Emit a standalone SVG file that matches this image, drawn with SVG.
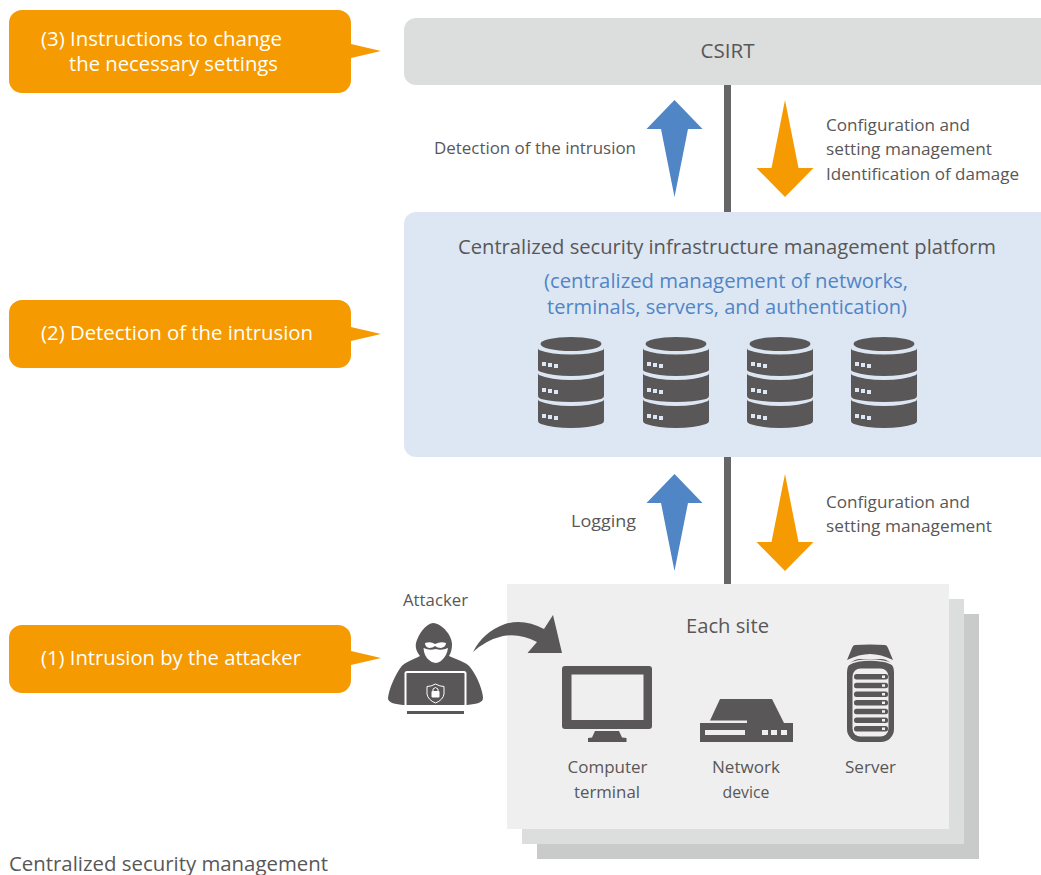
<svg xmlns="http://www.w3.org/2000/svg" xmlns:xlink="http://www.w3.org/1999/xlink" width="1041" height="875" viewBox="0 0 1041 875">
<style>
text{font-family:"Open Sans","Noto Sans","Liberation Sans",sans-serif;fill:#595757;font-size:17px}
.w{fill:#fff;font-size:19.5px}
.m{font-size:19.5px}
.s{font-size:16.5px}
.b{fill:#5085c6;font-size:19.5px}
.g{fill:#595757}
.or{fill:#f59a00}
.bl{fill:#5085c6}
.c{text-anchor:middle}
</style>
<defs>
<g id="db">
<ellipse class="g" cx="0" cy="344" rx="30.500" ry="7"/>
<path class="g" d="M-33 348Q-33 349-32 350Q-20 354.500 0 354.500Q20 354.500 32 350Q33 349 33 348V370Q33 371 30 372Q18 376 0 376Q-18 376-30 372Q-33 371-33 370Z"/>
<path class="g" d="M-33 373Q-33 374-32 375Q-20 380 0 380Q20 380 32 375Q33 374 33 373V396Q33 398 30 399Q18 402 0 402Q-18 402-30 399Q-33 398-33 396Z"/>
<path class="g" d="M-33 399Q-33 400-32 401Q-20 406 0 406Q20 406 32 401Q33 400 33 399V421Q33 423 30 424Q18 428 0 428Q-18 428-30 424Q-33 423-33 421Z"/>
<path fill="#dde7f3" d="M-29 362h4v4h-4zM-23 363h4v4h-4zM-17 364h4v4h-4zM-29 388h4v4h-4zM-23 389h4v4h-4zM-17 390h4v4h-4zM-29 414h4v4h-4zM-23 415h4v4h-4zM-17 416h4v4h-4z"/>
</g>
<path id="up" d="M0 0L28 29H13.500L0 97L-13.500 29H-28Z"/>
<path id="down" d="M0 0L13.500 68H28.500L0 97L-28.500 68H-13.500Z"/>
</defs>

<g id="csirt"><path fill="#dcdddd" d="M416 18H1041V85H416A12 12 0 0 1 404 73V30A12 12 0 0 1 416 18Z"/><text class="m c" x="727.500" y="58" textLength="54" lengthAdjust="spacingAndGlyphs">CSIRT</text></g>

<g id="platform">
<path fill="#dde7f3" d="M416 212H1041V457H416A12 12 0 0 1 404 445V224A12 12 0 0 1 416 212Z"/>
<text class="m c" x="727" y="254" textLength="538" lengthAdjust="spacingAndGlyphs">Centralized security infrastructure management platform</text>
<text class="b c" x="726" y="288" textLength="364" lengthAdjust="spacingAndGlyphs">(centralized management of networks,</text>
<text class="b c" x="727" y="314" textLength="360" lengthAdjust="spacingAndGlyphs">terminals, servers, and authentication)</text>
<use xlink:href="#db" href="#db" x="571"/><use xlink:href="#db" href="#db" x="676"/><use xlink:href="#db" href="#db" x="780"/><use xlink:href="#db" href="#db" x="884"/>
</g>

<g id="site">
<rect x="537" y="614" width="442" height="245" fill="#c9caca"/>
<rect x="522" y="599" width="442" height="245" fill="#dcdddd"/>
<rect x="507" y="584" width="442" height="245" fill="#efefef"/>
<text class="m c" x="727.500" y="633" textLength="83" lengthAdjust="spacingAndGlyphs">Each site</text>
</g>

<g id="connectors">
<rect x="724" y="85" width="7" height="127" fill="#666"/>
<rect x="724" y="457" width="7" height="127" fill="#666"/>
<use xlink:href="#up" href="#up" x="674.500" y="100" class="bl"/>
<use xlink:href="#down" href="#down" x="785" y="100" class="or"/>
<use xlink:href="#up" href="#up" x="674.500" y="474" class="bl"/>
<use xlink:href="#down" href="#down" x="785" y="474" class="or"/>
<path class="g" d="M473 652Q483 632 505 624Q524 618 544 629L553 615L562 653H527.500L537 642Q520 633 503 636Q486 640 473 652Z"/>
</g>

<g id="label-detection"><text x="434" y="154" textLength="202" lengthAdjust="spacingAndGlyphs">Detection of the intrusion</text></g>
<g id="label-config1"><text x="826" y="131" textLength="144" lengthAdjust="spacingAndGlyphs">Configuration and</text><text x="826" y="155" textLength="166" lengthAdjust="spacingAndGlyphs">setting management</text><text x="826" y="180" textLength="193" lengthAdjust="spacingAndGlyphs">Identification of damage</text></g>
<g id="label-logging"><text x="571" y="527" textLength="65" lengthAdjust="spacingAndGlyphs">Logging</text></g>
<g id="label-config2"><text x="826" y="508" textLength="144" lengthAdjust="spacingAndGlyphs">Configuration and</text><text x="826" y="532" textLength="166" lengthAdjust="spacingAndGlyphs">setting management</text></g>

<g id="callout-3"><path class="or" d="M22 10H338A13 13 0 0 1 351 23V44L381 51L351 58V80A13 13 0 0 1 338 93H22A13 13 0 0 1 9 80V23A13 13 0 0 1 22 10Z"/><text class="w" x="41" y="46" textLength="241" lengthAdjust="spacingAndGlyphs">(3) Instructions to change</text><text class="w" x="69" y="71" textLength="209" lengthAdjust="spacingAndGlyphs">the necessary settings</text></g>
<g id="callout-2"><path class="or" d="M22 300H338A13 13 0 0 1 351 313V327L381 334L351 341V355A13 13 0 0 1 338 368H22A13 13 0 0 1 9 355V313A13 13 0 0 1 22 300Z"/><text class="w" x="41" y="340" textLength="272" lengthAdjust="spacingAndGlyphs">(2) Detection of the intrusion</text></g>
<g id="callout-1"><path class="or" d="M22 625H338A13 13 0 0 1 351 638V651L381 658L351 665V680A13 13 0 0 1 338 693H22A13 13 0 0 1 9 680V638A13 13 0 0 1 22 625Z"/><text class="w" x="41" y="665" textLength="260" lengthAdjust="spacingAndGlyphs">(1) Intrusion by the attacker</text></g>

<g id="attacker">
<text class="s" x="403" y="606" textLength="65" lengthAdjust="spacingAndGlyphs">Attacker</text>
<path class="g" d="M433 623C443 624 452 636 452 644C452 649 451 653 449 656C458 660 466 662 470 667C478 677 483 692 483 698C483 702 478 704 467 705H403C393 704 388 702 388 698C389 689 395 675 401 667C405 662 412 660 420 656C417 652 415 648 416 643C418 635 425 624 433 623Z"/>
<path fill="#fff" d="M425 643Q431 641 435 644Q441 641 446 643Q446 647 441 648Q437 648 435 646Q433 648 429 648Q425 647 425 643Z"/>
<path fill="#fff" d="M423.500 648Q430 651 435.500 649Q442 651 448 648Q447 656 441 661Q438 663 435.500 663Q432 663 429 660Q424 656 423.500 648Z"/>
<rect x="405.500" y="672" width="60" height="34" rx="1.500" fill="#595757" stroke="#fff" stroke-width="2"/>
<rect x="407" y="711" width="57" height="3" class="g"/>
<path fill="none" stroke="#fff" stroke-width="1" d="M435.500 684Q440 686.500 444 686.500V694Q443 700 435.500 703Q428 700 427 694V686.500Q431 686.500 435.500 684Z"/>
<rect x="431.500" y="691" width="8" height="6.500" rx="1" fill="#fff"/>
<path fill="none" stroke="#fff" stroke-width="1" d="M433 691V689Q435.500 686 438 689V691"/>
</g>

<g id="terminal">
<rect x="562" y="666" width="90" height="63" rx="3" class="g"/>
<rect x="571.500" y="674.500" width="72" height="45.500" fill="#efefef"/>
<path class="g" d="M595 731H619L622 737.500L626.500 738V742H588V738L592 737.500Z"/>
<text class="s c" x="607.500" y="773" textLength="80" lengthAdjust="spacingAndGlyphs">Computer</text>
<text class="s c" x="607" y="798" textLength="66" lengthAdjust="spacingAndGlyphs">terminal</text>
</g>
<g id="network-device">
<path class="g" d="M720 699H772L784 723H793V742H700V723H747V720.500H710Z"/>
<path fill="#efefef" d="M705 730H745V735H705ZM762 730H768V735H762ZM771 730H777V735H771ZM781 730H787V735H781Z"/>
<text class="s c" x="746" y="773" textLength="68" lengthAdjust="spacingAndGlyphs">Network</text>
<text class="s c" x="746" y="798" textLength="47" lengthAdjust="spacingAndGlyphs">device</text>
</g>
<g id="server">
<path class="g" d="M855 645Q870 644 885 645Q887 645 888 648L893 660Q881 654 870 654Q859 654 847 660L852 648Q853 645 855 645Z"/>
<rect x="847" y="659" width="47" height="83" rx="13" class="g"/>
<rect x="852.500" y="668.500" width="36" height="68" rx="8" fill="#efefef"/>
<path fill="none" stroke="#efefef" stroke-width="1.500" d="M848 665Q852 662 858 661Q870 659 882 661Q889 662 893 665"/>
<g class="g"><rect x="854" y="674" width="34" height="5.500" rx="2.500"/><rect x="854" y="682.700" width="34" height="5.500" rx="2.500"/><rect x="854" y="691.400" width="34" height="5.500" rx="2.500"/><rect x="854" y="700" width="34" height="5.500" rx="2.500"/><rect x="854" y="708.700" width="34" height="5.500" rx="2.500"/><rect x="854" y="717.400" width="34" height="5.500" rx="2.500"/><rect x="854" y="726" width="34" height="5.500" rx="2.500"/></g>
<path fill="#efefef" d="M882 675.500h3v2.500h-3zM882 684.200h3v2.500h-3zM882 692.900h3v2.500h-3zM882 701.500h3v2.500h-3zM882 710.200h3v2.500h-3zM882 718.900h3v2.500h-3zM882 727.500h3v2.500h-3z"/>
<text class="s c" x="870.500" y="773" textLength="51" lengthAdjust="spacingAndGlyphs">Server</text>
</g>
<g id="caption"><text class="m" x="9" y="871" textLength="319" lengthAdjust="spacingAndGlyphs">Centralized security management</text></g>
</svg>
